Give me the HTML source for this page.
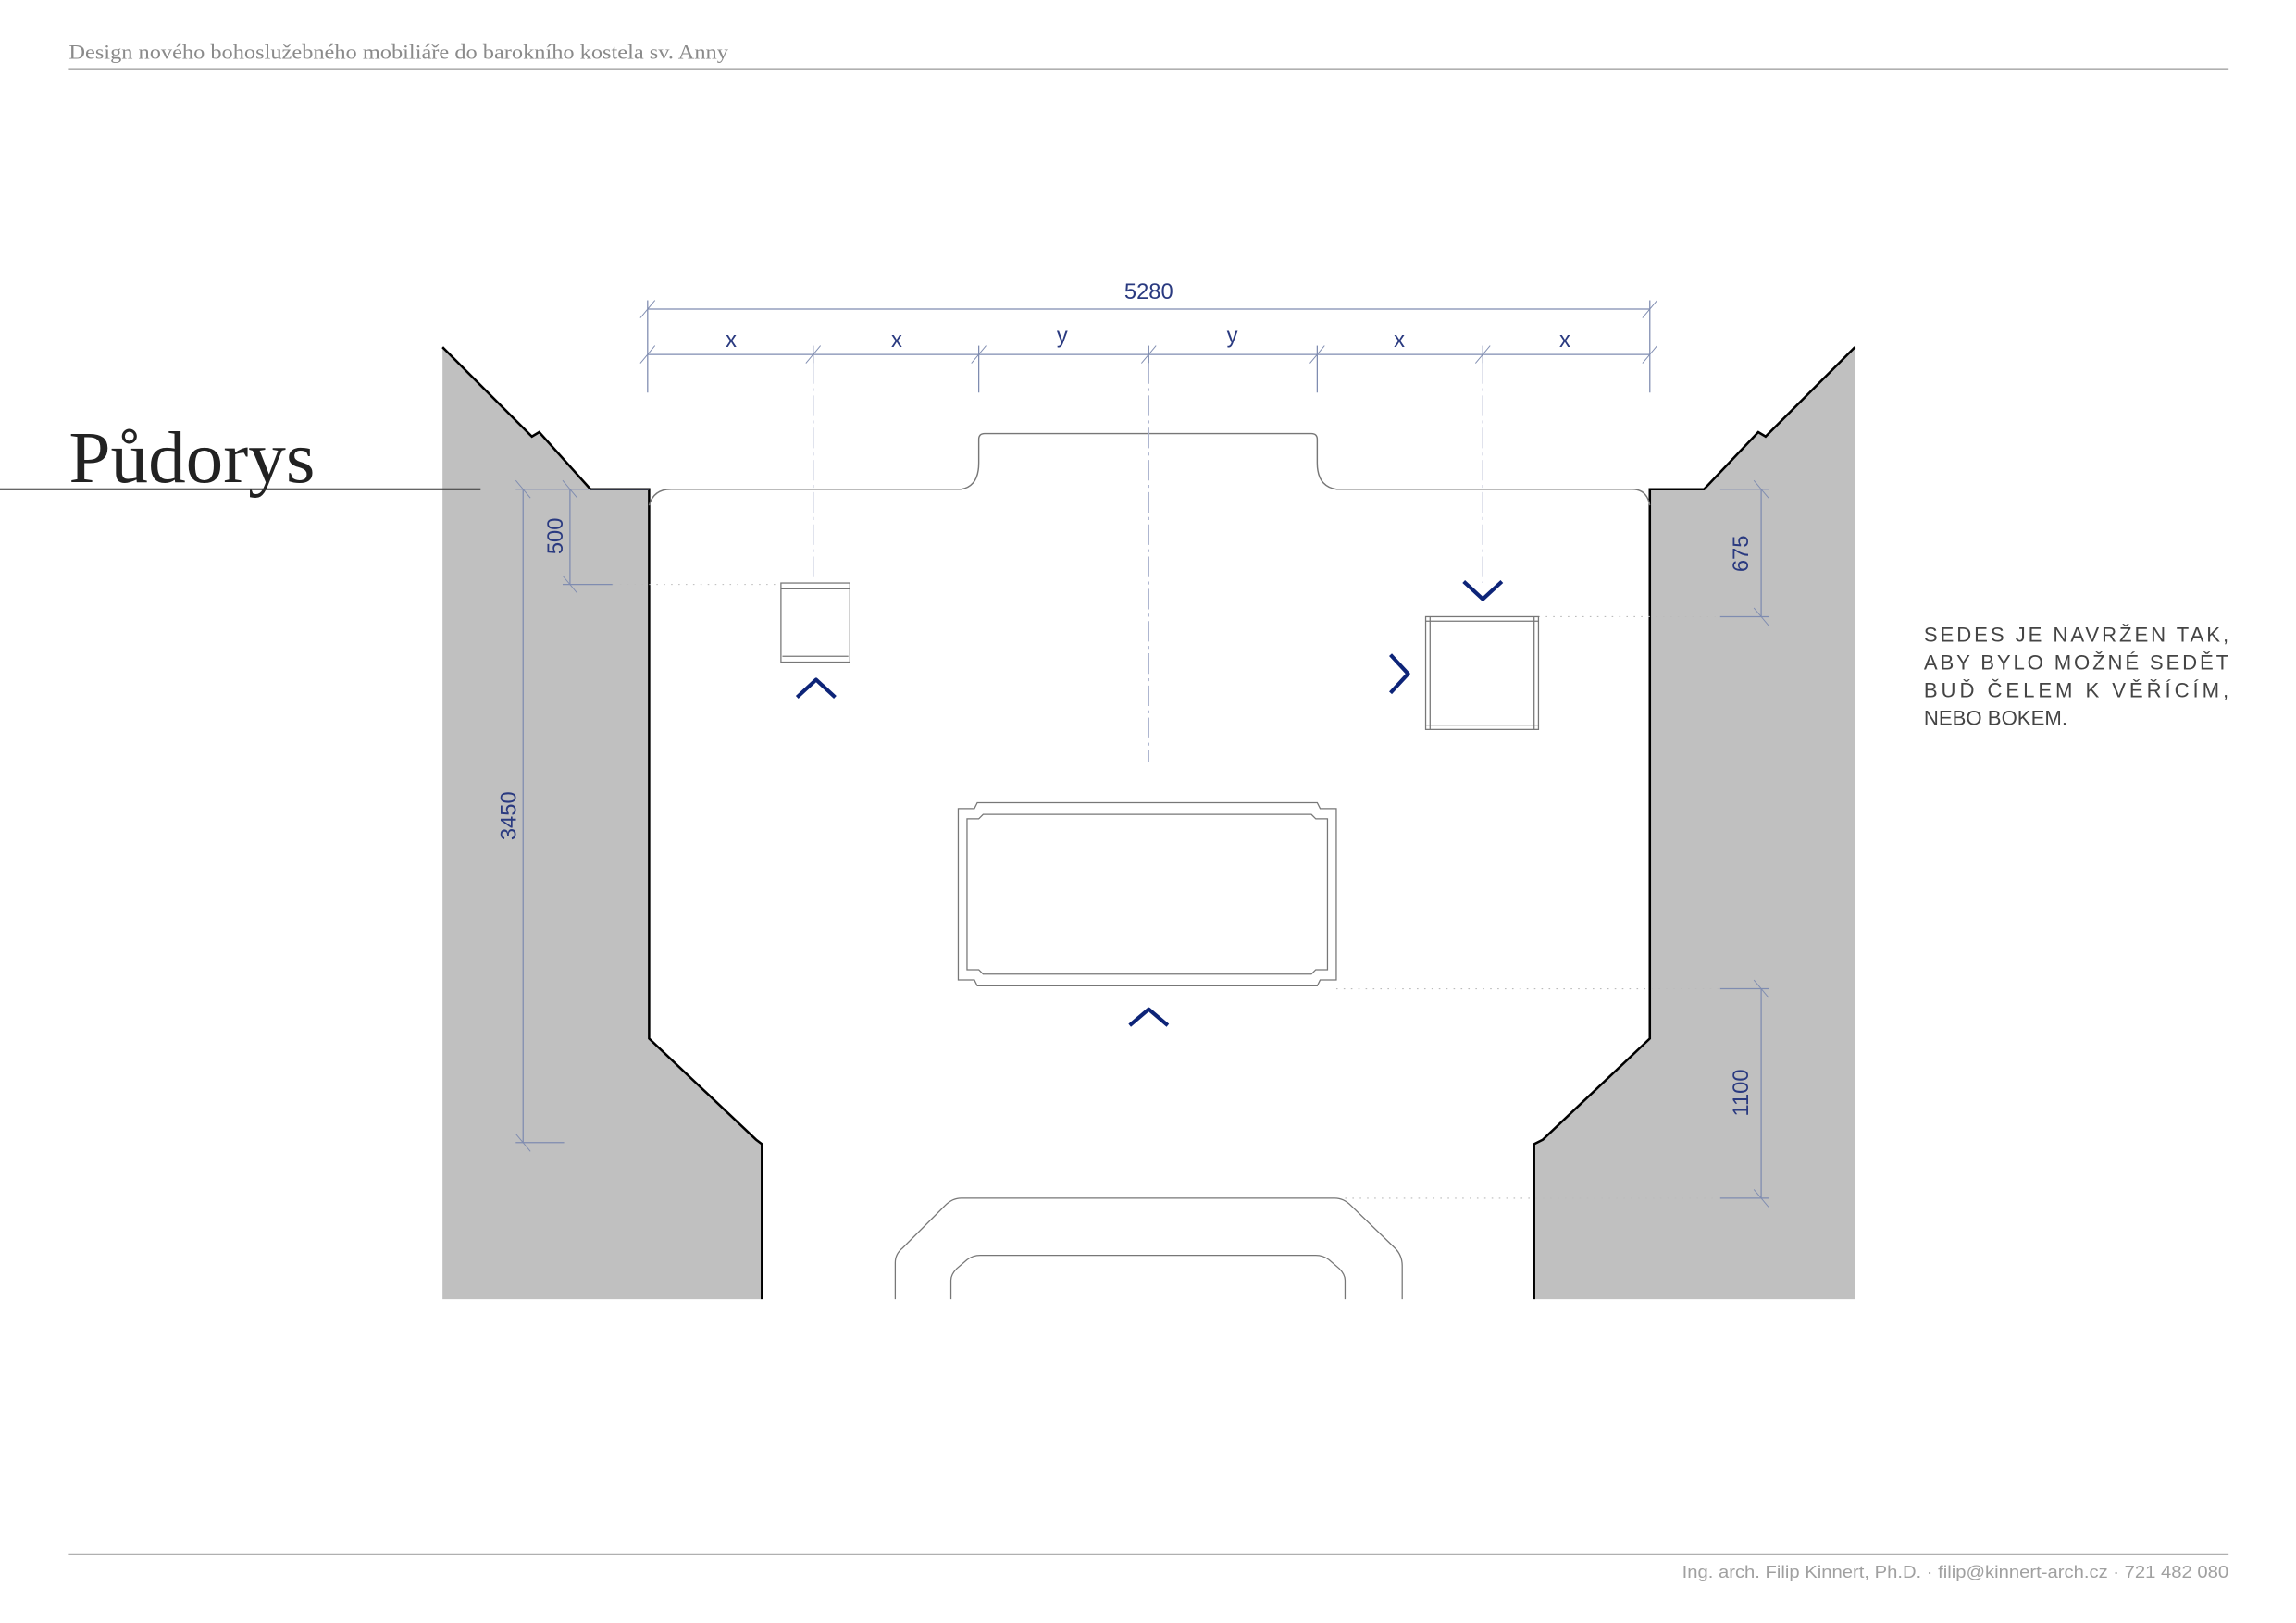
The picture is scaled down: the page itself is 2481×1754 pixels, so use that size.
<!DOCTYPE html>
<html><head><meta charset="utf-8"><style>
html,body{margin:0;padding:0;background:#fff;}
svg{display:block;}
</style></head><body>
<svg width="2481" height="1754" viewBox="0 0 1567 1108" preserveAspectRatio="none" xmlns="http://www.w3.org/2000/svg">
<!-- header/footer -->
<text x="47" y="40" font-family="Liberation Serif, serif" font-size="14" fill="#8a8a8a" textLength="450" lengthAdjust="spacingAndGlyphs">Design nového bohoslužebného mobiliáře do barokního kostela sv. Anny</text>
<line x1="47" y1="47.5" x2="1521" y2="47.5" stroke="#b0b0b0" stroke-width="1"/>
<line x1="47" y1="1061" x2="1521" y2="1061" stroke="#b0b0b0" stroke-width="1"/>
<text x="1148" y="1077" font-family="Liberation Sans, sans-serif" font-size="11.5" fill="#a0a0a0" textLength="373" lengthAdjust="spacingAndGlyphs">Ing. arch. Filip Kinnert, Ph.D. · filip@kinnert-arch.cz · 721 482 080</text>
<!-- walls -->
<polygon points="302,237 363,298 368,295 403,334 443,334 443,709 516,778 520,781 520,887 302,887" fill="#c0c0c0"/>
<polyline points="302,237 363,298 368,295 403,334 443,334 443,709 516,778 520,781 520,887" fill="none" stroke="#000" stroke-width="1.6"/>
<polygon points="1266,237 1205,298 1200,295 1163,334 1126,334 1126,709 1053,778 1047,781 1047,887 1266,887" fill="#c0c0c0"/>
<polyline points="1266,237 1205,298 1200,295 1163,334 1126,334 1126,709 1053,778 1047,781 1047,887" fill="none" stroke="#000" stroke-width="1.6"/>
<!-- title -->
<text x="47" y="329" font-family="Liberation Serif, serif" font-size="50" fill="#222" textLength="168" lengthAdjust="spacingAndGlyphs">Půdorys</text>
<line x1="0" y1="334" x2="328" y2="334" stroke="#333" stroke-width="1.3"/>
<!-- niche -->
<path d="M443,345 Q446,334 458,334 L656,334 Q668,332 668,316 L668,300 Q668,296 672,296 L895,296 Q899,296 899,300 L899,316 Q899,332 912,334 L1114,334 Q1124,334 1126,345" fill="none" stroke="#777" stroke-width="0.9"/>
<!-- dims -->
<g stroke="#7f8cb0" stroke-width="0.8" fill="none">
<line x1="442" y1="211" x2="1126" y2="211"/>
<line x1="442" y1="242" x2="1126" y2="242"/>
<line x1="442" y1="205" x2="442" y2="268"/>
<line x1="1126" y1="205" x2="1126" y2="268"/>
<line x1="668" y1="236" x2="668" y2="268"/>
<line x1="899" y1="236" x2="899" y2="268"/>
<line x1="555" y1="236" x2="555" y2="248"/>
<line x1="784" y1="236" x2="784" y2="248"/>
<line x1="1012" y1="236" x2="1012" y2="248"/>
<g stroke-width="0.6">
<line x1="437" y1="217" x2="447" y2="205"/><line x1="1121" y1="217" x2="1131" y2="205"/>
<line x1="437" y1="248" x2="447" y2="236"/><line x1="550" y1="248" x2="560" y2="236"/><line x1="663" y1="248" x2="673" y2="236"/><line x1="779" y1="248" x2="789" y2="236"/><line x1="894" y1="248" x2="904" y2="236"/><line x1="1007" y1="248" x2="1017" y2="236"/><line x1="1121" y1="248" x2="1131" y2="236"/>
</g>
<line x1="357" y1="334" x2="357" y2="780"/>
<line x1="352" y1="334" x2="443" y2="334"/>
<line x1="352" y1="780" x2="385" y2="780"/>
<line x1="389" y1="334" x2="389" y2="399"/>
<line x1="384" y1="399" x2="418" y2="399"/>
<line x1="1202" y1="334" x2="1202" y2="421"/>
<line x1="1174" y1="421" x2="1207" y2="421"/>
<line x1="1174" y1="334" x2="1207" y2="334"/>
<line x1="1202" y1="675" x2="1202" y2="818"/>
<line x1="1174" y1="675" x2="1207" y2="675"/>
<line x1="1174" y1="818" x2="1207" y2="818"/>
<g stroke-width="0.6">
<line x1="352" y1="328" x2="362" y2="340"/><line x1="352" y1="774" x2="362" y2="786"/>
<line x1="384" y1="328" x2="394" y2="340"/><line x1="384" y1="393" x2="394" y2="405"/>
<line x1="1197" y1="328" x2="1207" y2="340"/><line x1="1197" y1="415" x2="1207" y2="427"/>
<line x1="1197" y1="669" x2="1207" y2="681"/><line x1="1197" y1="812" x2="1207" y2="824"/>
</g>
</g>
<g stroke="#bbb" stroke-width="0.7" stroke-dasharray="1,4" fill="none">
<line x1="418" y1="399" x2="533" y2="399"/>
<line x1="1050" y1="421" x2="1174" y2="421"/>
<line x1="912" y1="675" x2="1174" y2="675"/>
<line x1="918" y1="818" x2="1174" y2="818"/>
</g>
<g font-family="Liberation Sans, sans-serif" fill="#2a3a80" font-size="15" text-anchor="middle">
<text x="784" y="204">5280</text>
<text x="499" y="237">x</text><text x="612" y="237">x</text>
<text x="725" y="234">y</text><text x="841" y="234">y</text>
<text x="955" y="237">x</text><text x="1068" y="237">x</text>
<text transform="translate(384,366) rotate(-90)">500</text>
<text transform="translate(352,557) rotate(-90)">3450</text>
<text transform="translate(1193,378) rotate(-90)">675</text>
<text transform="translate(1193,746) rotate(-90)">1100</text>
</g>
<!-- centerlines -->
<g stroke="#a8b0cc" stroke-width="0.8" stroke-dasharray="14,3,2,3" fill="none">
<line x1="555" y1="248" x2="555" y2="395"/>
<line x1="784" y1="248" x2="784" y2="520"/>
<line x1="1012" y1="248" x2="1012" y2="398"/>
</g>
<!-- chairs -->
<g stroke="#777" stroke-width="0.8" fill="none">
<rect x="533" y="398" width="47" height="54"/>
<line x1="533" y1="402" x2="580" y2="402"/>
<line x1="534" y1="448" x2="579" y2="448"/>
<rect x="973" y="421" width="77" height="77"/>
<line x1="976" y1="421" x2="976" y2="498"/>
<line x1="1047" y1="421" x2="1047" y2="498"/>
<line x1="973" y1="424" x2="1050" y2="424"/>
<line x1="973" y1="495" x2="1050" y2="495"/>
<!-- altar -->
<path d="M654,552 L665,552 L667,548 L899,548 L901,552 L912,552 L912,669 L901,669 L899,673 L667,673 L665,669 L654,669 Z"/>
<path d="M660,559 L668,559 L671,556 L895,556 L898,559 L906,559 L906,662 L898,662 L895,665 L671,665 L668,662 L660,662 Z"/>
<!-- step -->
<path d="M611,887 L611,862 Q611,856 616,852 L645,823 Q650,818 656,818 L911,818 Q917,818 922,823 L952,852 Q957,857 957,864 L957,887"/>
<path d="M649,887 L649,874 Q649,870 653,866 L660,860 Q664,857 669,857 L898,857 Q903,857 907,860 L914,866 Q918,870 918,874 L918,887"/>
</g>
<!-- chevrons -->
<g stroke="#0d2478" stroke-width="2.6" fill="none" stroke-linejoin="round">
<polyline points="544,476 557,464 570,476"/>
<polyline points="771,700 784,689 797,700"/>
<polyline points="999,397 1012,409 1025,397"/>
<polyline points="949,447 961,460 949,473"/>
</g>
<!-- note -->
<g font-family="Liberation Sans, sans-serif" font-size="14" fill="#444">
<text x="1313" y="438" textLength="208" lengthAdjust="spacing">SEDES JE NAVRŽEN TAK,</text>
<text x="1313" y="457" textLength="208" lengthAdjust="spacing">ABY BYLO MOŽNÉ SEDĚT</text>
<text x="1313" y="476" textLength="208" lengthAdjust="spacing">BUĎ ČELEM K VĚŘÍCÍM,</text>
<text x="1313" y="495">NEBO BOKEM.</text>
</g>
</svg>
</body></html>
